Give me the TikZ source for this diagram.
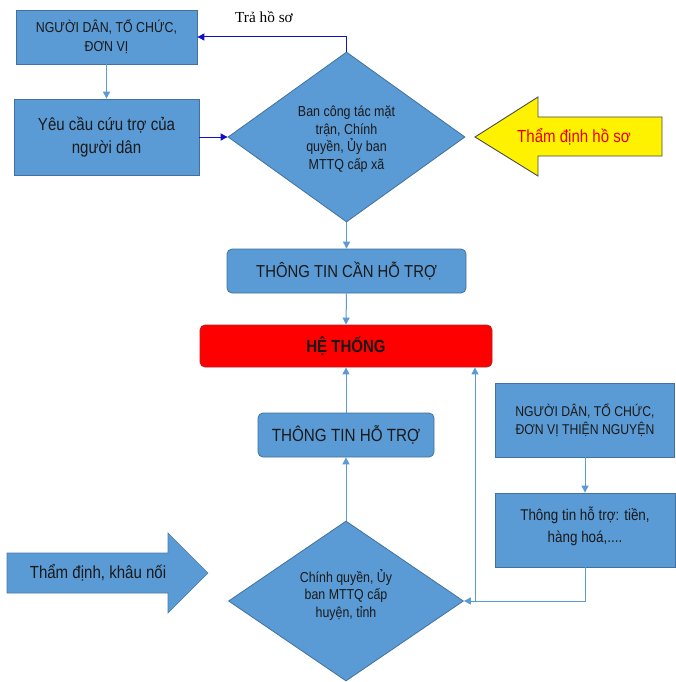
\documentclass[tikz,border=0pt]{standalone}
\usepackage{fontspec}
\setmainfont{Liberation Sans}[FakeStretch=0.86]
\newfontfamily\serifont{Liberation Serif}
\usetikzlibrary{arrows.meta,shapes.geometric}
\definecolor{boxblue}{HTML}{5B9BD5}
\definecolor{boxedge}{HTML}{41719C}
\definecolor{linkblue}{HTML}{5B9BD5}
\definecolor{darkarrow}{HTML}{1010C8}
\definecolor{redfill}{HTML}{FF0000}
\definecolor{rededge}{HTML}{B02020}
\tikzset{
  x=1pt,y=-1pt,
  bluebox/.style={draw=boxedge,fill=boxblue,line width=0.8pt,inner sep=0pt,align=center,text=black!90},
  roundbox/.style={bluebox,rounded corners=5pt},
  txt/.style={inner sep=0pt,align=center,text=black!90},
  link/.style={draw=linkblue,line width=1pt,-{Triangle[width=7pt,length=7pt]}},
  darklink/.style={draw=darkarrow,line width=1pt,-{Triangle[width=7pt,length=7pt]}},
  plainlink/.style={draw=linkblue,line width=1pt}
}
\begin{document}
\begin{tikzpicture}
\useasboundingbox[fill=white] (0,0) rectangle (675,682);
% boxes
\node[bluebox,minimum width=181pt,minimum height=54pt,font=\fontsize{14.4}{19}\selectfont] (b1) at (106.5,37) {NGƯỜI DÂN, TỔ CHỨC,\\ ĐƠN VỊ};
\node[bluebox,minimum width=185pt,minimum height=76pt,font=\fontsize{17.5}{23}\selectfont] (b2) at (106.5,137) {Yêu cầu cứu trợ của\\ người dân};
% diamond 1
\node[draw=boxedge,fill=boxblue,line width=0.8pt,diamond,inner sep=0pt,minimum width=237pt,minimum height=170pt] (d1) at (346.5,137) {};
\node[txt,font=\fontsize{14.5}{17.5}\selectfont] (d1t) at (346.5,139) {Ban công tác mặt\\ trận, Chính\\ quyền, Ủy ban\\ MTTQ cấp xã};
% yellow arrow
\filldraw[fill=yellow,draw=black!70,line width=0.9pt] (475,137) -- (538,97) -- (538,117) -- (662,117) -- (662,156) -- (538,156) -- (538,176) -- cycle;
\node[txt,text=red!90!black,font=\fontsize{17.5}{20}\selectfont] (ya) at (574,137) {Thẩm định hồ sơ};
% middle boxes
\node[roundbox,minimum width=239pt,minimum height=44pt,font=\fontsize{17.3}{20}\selectfont] (b3) at (346.5,271) {THÔNG TIN CẦN HỖ TRỢ};
\node[draw=rededge,fill=redfill,line width=0.8pt,rounded corners=5pt,minimum width=292pt,minimum height=42pt,inner sep=0pt,font=\bfseries\fontsize{17.5}{20}\selectfont,text=black!90] (sys) at (346,346) {HỆ THỐNG};
\node[roundbox,minimum width=176pt,minimum height=44pt,font=\fontsize{17.7}{20}\selectfont] (b4) at (346,435) {THÔNG TIN HỖ TRỢ};
% right boxes
\node[bluebox,minimum width=179pt,minimum height=74pt,font=\fontsize{14.2}{18}\selectfont] (b5) at (585,420) {NGƯỜI DÂN, TỔ CHỨC,\\ ĐƠN VỊ THIỆN NGUYỆN};
\node[bluebox,minimum width=180pt,minimum height=74pt,font=\fontsize{15.6}{22}\selectfont] (b6) at (585,530) {};
\node[txt,font=\fontsize{15.6}{22}\selectfont] (b6t) at (585,526) {Thông tin hỗ trợ: tiền,\\ hàng hoá,....};
% diamond 2
\node[draw=boxedge,fill=boxblue,line width=0.8pt,diamond,inner sep=0pt,minimum width=235pt,minimum height=160pt] (d2) at (346,601) {};
\node[txt,font=\fontsize{14.4}{17.5}\selectfont] (d2t) at (346,595) {Chính quyền, Ủy\\ ban MTTQ  cấp\\ huyện, tỉnh};
% blue block arrow
\filldraw[fill=boxblue,draw=boxblue!80!black,line width=0.6pt] (7,553) -- (168,553) -- (168,533) -- (208,573) -- (168,613) -- (168,593) -- (7,593) -- cycle;
\node[txt,font=\fontsize{17.5}{20}\selectfont] (ba) at (98,573) {Thẩm định, khâu nối};
% connectors
\draw[link] (b1.south) -- (b2.north);
\draw[darklink] (b2.east) -- (d1.west);
\draw[darklink] (d1.north) -- (346.5,37) -- (b1.east);
\node[font=\serifont\fontsize{15.3}{17}\selectfont,inner sep=0pt] (tr) at (264,17) {Trả hồ sơ};
\draw[link] (d1.south) -- (b3.north);
\draw[link] (b3.south) -- (sys.south |- sys.north);
\draw[link] (d2.north) -- (b4.south);
\draw[link] (b4.north) -- (sys.south);
\draw[link] (b5.south) -- (b6.north);
\coordinate (jn) at (475,601);
\draw[plainlink] (b6.south) -- (585,601) -- (jn);
\draw[link] (jn) -- (d2.east);
\draw[link] (jn) -- (jn |- sys.south);
\end{tikzpicture}
\end{document}
